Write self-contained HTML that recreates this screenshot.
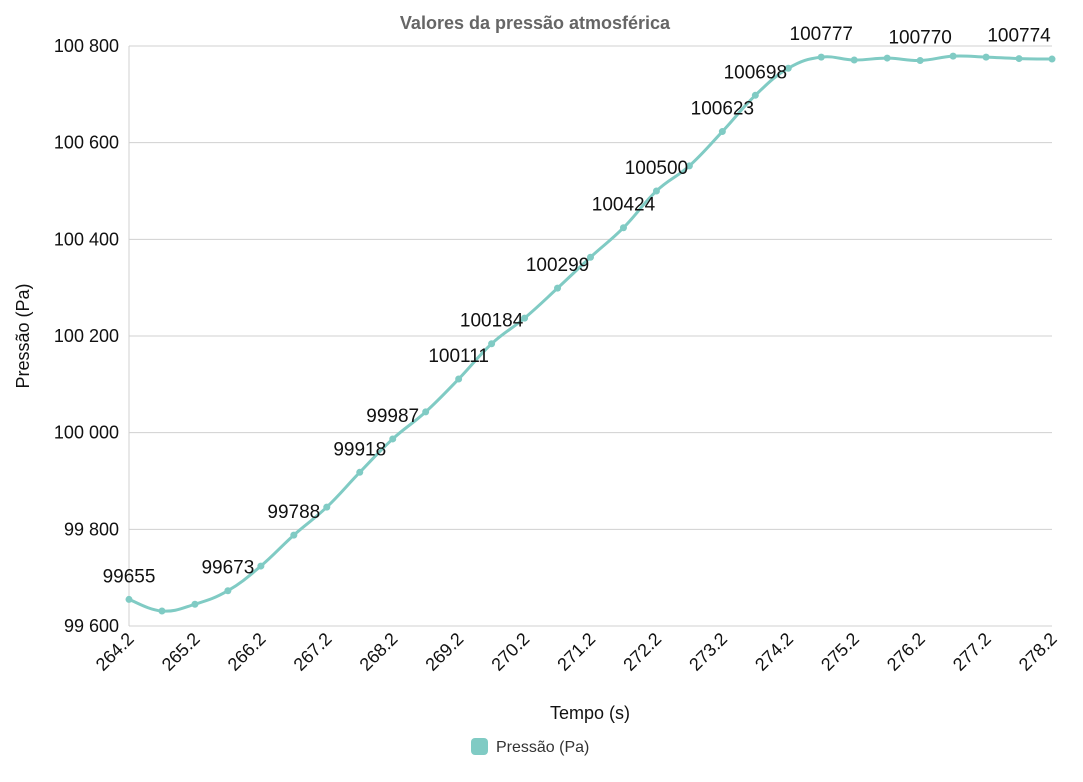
<!DOCTYPE html>
<html><head><meta charset="utf-8"><style>
body{margin:0;background:#fff;font-family:"Liberation Sans","DejaVu Sans",sans-serif;}
svg text{font-family:"Liberation Sans","DejaVu Sans",sans-serif;}
</style></head><body>
<svg id="chart" width="1083" height="777" viewBox="0 0 1083 777" xmlns="http://www.w3.org/2000/svg">
<rect width="1083" height="777" fill="#fff"/>
<text x="535" y="29" text-anchor="middle" font-size="18" font-weight="bold" fill="#666">Valores da pressão atmosférica</text>
<g id="grid"></g><g id="yticks"></g><g id="xticks"></g><g id="series"></g><g id="labels"></g>
<text transform="translate(29,336) rotate(-90)" text-anchor="middle" font-size="18" fill="#111">Pressão (Pa)</text>
<text x="590" y="719" text-anchor="middle" font-size="18" fill="#111">Tempo (s)</text>
<g>
<rect x="471" y="738" width="17" height="17" rx="4" fill="#80cbc4"/>
<text x="496" y="752" font-size="16" fill="#333">Pressão (Pa)</text>
</g>
</svg>
<script>
const times=[264.2,264.7,265.2,265.7,266.2,266.7,267.2,267.7,268.2,268.7,269.2,269.7,270.2,270.7,271.2,271.7,272.2,272.7,273.2,273.7,274.2,274.7,275.2,275.7,276.2,276.7,277.2,277.7,278.2];
const pressure=[99655,99631,99645,99673,99724,99788,99846,99918,99987,100043,100111,100184,100237,100299,100363,100424,100500,100552,100623,100698,100754,100777,100771,100775,100770,100779,100777,100774,100773];
const labelIdx=[0,3,5,7,8,10,11,13,15,16,18,19,21,24,27];
const yTicks=[99600,99800,100000,100200,100400,100600,100800];
const yTickLabels=["99 600","99 800","100 000","100 200","100 400","100 600","100 800"];
const xTicks=[264.2,265.2,266.2,267.2,268.2,269.2,270.2,271.2,272.2,273.2,274.2,275.2,276.2,277.2,278.2];
const X0=129,X1=1052,Y0=626,Y1=46;
const xs=t=>X0+(t-264.2)/(278.2-264.2)*(X1-X0);
const ys=v=>Y0-(v-99600)/(100800-99600)*(Y0-Y1);
const NS="http://www.w3.org/2000/svg";
function mk(tag,attrs,parent){const e=document.createElementNS(NS,tag);for(const k in attrs)e.setAttribute(k,attrs[k]);document.getElementById(parent).appendChild(e);return e;}
yTicks.forEach((v,i)=>{
  const l=mk('line',{x1:X0,x2:X1,y1:ys(v),y2:ys(v),stroke:'#d0d0d0','stroke-width':1},'grid');
  
  
  const t=mk('text',{x:119,y:ys(v)+6,'text-anchor':'end','font-size':18,fill:'#111'},'yticks');
  t.textContent=yTickLabels[i];
  
  
});
const ax=mk('line',{x1:X0,x2:X0,y1:Y1,y2:Y0,stroke:'#d0d0d0'},'grid');


xTicks.forEach(v=>{
  const x=xs(v);
  const t=mk('text',{transform:`translate(${x+6},${Y0+14}) rotate(-45)`,'text-anchor':'end','font-size':18,fill:'#111'},'xticks');
  t.textContent=v.toFixed(1);
  
  
});
const pts=times.map((t,i)=>[xs(t),ys(pressure[i])]);
let d=`M${pts[0][0]},${pts[0][1]}`;
for(let i=0;i<pts.length-1;i++){
  const p0=pts[Math.max(0,i-1)],p1=pts[i],p2=pts[i+1],p3=pts[Math.min(pts.length-1,i+2)];
  const k=0.2;
  d+=` C${p1[0]+(p2[0]-p0[0])*k},${p1[1]+(p2[1]-p0[1])*k} ${p2[0]-(p3[0]-p1[0])*k},${p2[1]-(p3[1]-p1[1])*k} ${p2[0]},${p2[1]}`;
}
const line=mk('path',{d:d,fill:'none',stroke:'#80cbc4','stroke-width':3},'series');


pts.forEach(p=>{
  const c=mk('circle',{cx:p[0],cy:p[1],r:3.5,fill:'#80cbc4'},'series');
  
  
});
labelIdx.forEach(i=>{
  const t=mk('text',{x:pts[i][0],y:pts[i][1]-17,'text-anchor':'middle','font-size':19,fill:'#111'},'labels');
  t.textContent=pressure[i];
  
  
});
</script>
</body></html>
